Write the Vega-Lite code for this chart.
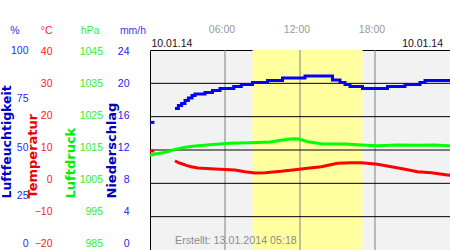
{
  "$schema": "https://vega.github.io/schema/vega-lite/v6.json",
  "width": 300,
  "height": 200,
  "autosize": {"type": "none"},
  "padding": {"left": 150, "top": 50, "right": 0, "bottom": 0},
  "background": "white",
  "config": {
    "view": {"fill": "#f2f2f2", "stroke": "#000000", "strokeWidth": 1},
    "font": "Liberation Sans",
    "scale": {"continuousPadding": 0}
  },
  "resolve": {"scale": {"y": "independent"}, "axis": {"y": "independent"}},
  "layer": [
    {
      "data": {"values": [{"start": 8.2, "end": 17.0}]},
      "mark": {"type": "rect", "color": "#ffffa0"},
      "encoding": {
        "x": {"field": "start", "type": "quantitative", "scale": {"domain": [0, 24], "nice": false, "zero": false, "padding": 0}, "axis": null},
        "x2": {"field": "end"}
      }
    },
    {
      "data": {"values": [{"h": 6}, {"h": 12}, {"h": 18}]},
      "mark": {"type": "rule", "color": "#808080", "strokeWidth": 1},
      "encoding": {
        "x": {"field": "h", "type": "quantitative", "scale": {"domain": [0, 24], "nice": false, "zero": false, "padding": 0}, "axis": null}
      }
    },
    {
      "data": {"values": [{"t": 30}, {"t": 20}, {"t": 10}, {"t": 0}, {"t": -10}]},
      "mark": {"type": "rule", "color": "#000000", "strokeWidth": 1},
      "encoding": {
        "y": {"field": "t", "type": "quantitative", "scale": {"domain": [-20, 40], "nice": false, "zero": false}, "axis": null}
      }
    },
    {
      "data": {"values": [
        {"h": 0, "v": 63.8, "seg": 1}, {"h": 0.35, "v": 63.8, "seg": 1},
        {"h": 2.0, "v": 70.8, "seg": 2}, {"h": 2.27, "v": 72.2, "seg": 2}, {"h": 2.53, "v": 73.3, "seg": 2},
        {"h": 2.8, "v": 74.7, "seg": 2}, {"h": 3.07, "v": 76, "seg": 2}, {"h": 3.36, "v": 77.2, "seg": 2},
        {"h": 3.6, "v": 78, "seg": 2}, {"h": 4.4, "v": 78.8, "seg": 2}, {"h": 5.0, "v": 79.8, "seg": 2},
        {"h": 5.6, "v": 80.8, "seg": 2}, {"h": 6.7, "v": 81.8, "seg": 2}, {"h": 7.3, "v": 82.8, "seg": 2},
        {"h": 8.2, "v": 83.7, "seg": 2}, {"h": 9.4, "v": 84.7, "seg": 2}, {"h": 10.6, "v": 86, "seg": 2},
        {"h": 12.4, "v": 87, "seg": 2}, {"h": 14.6, "v": 85, "seg": 2}, {"h": 15.2, "v": 83.7, "seg": 2},
        {"h": 15.6, "v": 82.7, "seg": 2}, {"h": 16.0, "v": 81.8, "seg": 2}, {"h": 17.0, "v": 80.8, "seg": 2},
        {"h": 19.0, "v": 81.8, "seg": 2}, {"h": 20.4, "v": 82.8, "seg": 2}, {"h": 21.6, "v": 83.8, "seg": 2},
        {"h": 22.0, "v": 84.8, "seg": 2}, {"h": 24.0, "v": 84.8, "seg": 2}
      ]},
      "mark": {"type": "line", "color": "#0000ff", "strokeWidth": 3, "interpolate": "step-after"},
      "encoding": {
        "x": {"field": "h", "type": "quantitative", "scale": {"domain": [0, 24], "nice": false, "zero": false, "padding": 0}, "axis": null},
        "y": {"field": "v", "type": "quantitative", "scale": {"domain": [0, 100], "nice": false, "zero": false},
          "axis": {"orient": "left", "offset": 0, "domain": false, "ticks": false, "labels": false, "grid": false,
            "title": "%", "titleAngle": 0, "titleX": -135.5, "titleY": -20, "titleAlign": "center", "titleBaseline": "middle",
            "titleColor": "#3333cc", "titleFont": "Liberation Sans", "titleFontSize": 10.5, "titleFontWeight": "normal"}},
        "detail": {"field": "seg"}
      }
    },
    {
      "data": {"values": [
        {"h": 0, "v": 1013.3}, {"h": 0.4, "v": 1013.8}, {"h": 1.04, "v": 1014.2}, {"h": 1.6, "v": 1014.7},
        {"h": 2.0, "v": 1015.2}, {"h": 2.8, "v": 1015.8}, {"h": 3.6, "v": 1016.2}, {"h": 4.8, "v": 1016.6},
        {"h": 6.4, "v": 1017.0}, {"h": 8.0, "v": 1017.2}, {"h": 9.6, "v": 1017.4}, {"h": 11.0, "v": 1018.2},
        {"h": 11.5, "v": 1018.4}, {"h": 11.9, "v": 1018.3}, {"h": 12.64, "v": 1017.5}, {"h": 13.7, "v": 1016.9},
        {"h": 15.6, "v": 1016.8}, {"h": 16.9, "v": 1016.5}, {"h": 18.2, "v": 1016.3}, {"h": 19.8, "v": 1016.5},
        {"h": 21.4, "v": 1016.4}, {"h": 22.8, "v": 1016.5}, {"h": 23.8, "v": 1016.3}, {"h": 24.0, "v": 1016.3}
      ]},
      "mark": {"type": "line", "color": "#00ff00", "strokeWidth": 3},
      "encoding": {
        "x": {"field": "h", "type": "quantitative", "scale": {"domain": [0, 24], "nice": false, "zero": false, "padding": 0}, "axis": null},
        "y": {"field": "v", "type": "quantitative", "scale": {"domain": [985, 1045], "nice": false, "zero": false},
          "axis": {"orient": "left", "offset": 0, "domain": false, "ticks": false, "labels": false, "grid": false,
            "title": "hPa", "titleAngle": 0, "titleX": -60.5, "titleY": -20, "titleAlign": "center", "titleBaseline": "middle",
            "titleColor": "#33ee33", "titleFont": "Liberation Sans", "titleFontSize": 10.5, "titleFontWeight": "normal"}}
      }
    },
    {
      "data": {"values": [
        {"h": 0, "v": 9.7, "seg": 1}, {"h": 0.35, "v": 9.7, "seg": 1},
        {"h": 2.0, "v": 6.8, "seg": 2}, {"h": 2.27, "v": 6.2, "seg": 2}, {"h": 2.6, "v": 5.8, "seg": 2},
        {"h": 2.9, "v": 5.4, "seg": 2}, {"h": 3.3, "v": 5.0, "seg": 2}, {"h": 3.84, "v": 4.6, "seg": 2},
        {"h": 5.2, "v": 4.3, "seg": 2}, {"h": 6.8, "v": 4.0, "seg": 2}, {"h": 7.6, "v": 3.5, "seg": 2},
        {"h": 8.4, "v": 3.1, "seg": 2}, {"h": 9.2, "v": 3.2, "seg": 2}, {"h": 10.5, "v": 3.6, "seg": 2},
        {"h": 11.6, "v": 4.1, "seg": 2}, {"h": 12.6, "v": 4.5, "seg": 2}, {"h": 13.7, "v": 5.0, "seg": 2},
        {"h": 15.0, "v": 6.0, "seg": 2}, {"h": 16.1, "v": 6.2, "seg": 2}, {"h": 16.9, "v": 6.2, "seg": 2},
        {"h": 18.2, "v": 5.7, "seg": 2}, {"h": 19.3, "v": 5.0, "seg": 2}, {"h": 20.4, "v": 4.2, "seg": 2},
        {"h": 21.4, "v": 3.5, "seg": 2}, {"h": 22.5, "v": 3.2, "seg": 2}, {"h": 23.8, "v": 2.5, "seg": 2},
        {"h": 24.0, "v": 2.4, "seg": 2}
      ]},
      "mark": {"type": "line", "color": "#ff0000", "strokeWidth": 3},
      "encoding": {
        "x": {"field": "h", "type": "quantitative", "scale": {"domain": [0, 24], "nice": false, "zero": false, "padding": 0}, "axis": null},
        "y": {"field": "v", "type": "quantitative", "scale": {"domain": [-20, 40], "nice": false, "zero": false},
          "axis": {"orient": "left", "offset": 0, "domain": false, "ticks": false, "labels": false, "grid": false,
            "title": "°C", "titleAngle": 0, "titleX": -103.8, "titleY": -20, "titleAlign": "center", "titleBaseline": "middle",
            "titleColor": "#ff2222", "titleFont": "Liberation Sans", "titleFontSize": 10.5, "titleFontWeight": "normal"}},
        "detail": {"field": "seg"}
      }
    },
    {
      "data": {"values": [
        {"h": 0, "p": 0}, {"h": 3, "p": 0}, {"h": 6, "p": 0}, {"h": 9, "p": 0},
        {"h": 12, "p": 0}, {"h": 15, "p": 0}, {"h": 18, "p": 0}, {"h": 21, "p": 0}
      ]},
      "mark": {"type": "bar", "color": "#0000ff", "width": 2},
      "encoding": {
        "x": {"field": "h", "type": "quantitative", "scale": {"domain": [0, 24], "nice": false, "zero": false, "padding": 0}, "axis": null},
        "y": {"field": "p", "type": "quantitative", "scale": {"domain": [0, 24], "nice": false, "zero": false},
          "axis": {"orient": "left", "offset": 0, "domain": false, "ticks": false, "labels": false, "grid": false,
            "title": "mm/h", "titleAngle": 0, "titleX": -17.5, "titleY": -20, "titleAlign": "center", "titleBaseline": "middle",
            "titleColor": "#5533dd", "titleFont": "Liberation Sans", "titleFontSize": 10.5, "titleFontWeight": "normal"}}
      }
    },
    {
      "data": {"values": [{"v": 0}, {"v": 25}, {"v": 50}, {"v": 75}, {"v": 100}]},
      "mark": {"type": "rule", "opacity": 0},
      "encoding": {
        "y": {"field": "v", "type": "quantitative", "scale": {"domain": [-3.6458, 100.5208], "nice": false, "zero": false},
          "axis": {"orient": "left", "offset": 122, "values": [0, 25, 50, 75, 100], "domain": false, "ticks": false, "tickSize": 0,
            "labelPadding": 0, "labelAlign": "right", "labelBaseline": "middle", "labelOverlap": false, "grid": false,
            "labelColor": "#2a2aff", "labelFont": "Liberation Sans", "labelFontSize": 10.5,
            "title": "Luftfeuchtigkeit", "titleAngle": 270, "titleX": -17.5, "titleY": 148, "titleAlign": "left", "titleBaseline": "alphabetic",
            "titleColor": "#0000cc", "titleFont": "DejaVu Sans", "titleFontSize": 12.5, "titleFontWeight": "bold"}}
      }
    },
    {
      "data": {"values": [{"v": -20}, {"v": -10}, {"v": 0}, {"v": 10}, {"v": 20}, {"v": 30}, {"v": 40}]},
      "mark": {"type": "rule", "opacity": 0},
      "encoding": {
        "y": {"field": "v", "type": "quantitative", "scale": {"domain": [-22.1875, 40.3125], "nice": false, "zero": false},
          "axis": {"orient": "left", "offset": 98, "values": [-20, -10, 0, 10, 20, 30, 40], "domain": false, "ticks": false, "tickSize": 0,
            "labelPadding": 0, "labelAlign": "right", "labelBaseline": "middle", "labelOverlap": false, "grid": false,
            "labelColor": "#ff2222", "labelFont": "Liberation Sans", "labelFontSize": 10.5,
            "title": "Temperatur", "titleAngle": 270, "titleX": -15.5, "titleY": 148, "titleAlign": "left", "titleBaseline": "alphabetic",
            "titleColor": "#ee0000", "titleFont": "DejaVu Sans", "titleFontSize": 13, "titleFontWeight": "bold"}}
      }
    },
    {
      "data": {"values": [{"v": 985}, {"v": 995}, {"v": 1005}, {"v": 1015}, {"v": 1025}, {"v": 1035}, {"v": 1045}]},
      "mark": {"type": "rule", "opacity": 0},
      "encoding": {
        "y": {"field": "v", "type": "quantitative", "scale": {"domain": [982.8125, 1045.3125], "nice": false, "zero": false},
          "axis": {"orient": "left", "offset": 47.5, "values": [985, 995, 1005, 1015, 1025, 1035, 1045], "format": "d", "domain": false, "ticks": false, "tickSize": 0,
            "labelPadding": 0, "labelAlign": "right", "labelBaseline": "middle", "labelOverlap": false, "grid": false,
            "labelColor": "#33ee33", "labelFont": "Liberation Sans", "labelFontSize": 10.5,
            "title": "Luftdruck", "titleAngle": 270, "titleX": -28.5, "titleY": 148, "titleAlign": "left", "titleBaseline": "alphabetic",
            "titleColor": "#00ee00", "titleFont": "DejaVu Sans", "titleFontSize": 13, "titleFontWeight": "bold"}}
      }
    },
    {
      "data": {"values": [{"v": 0}, {"v": 4}, {"v": 8}, {"v": 12}, {"v": 16}, {"v": 20}, {"v": 24}]},
      "mark": {"type": "rule", "opacity": 0},
      "encoding": {
        "y": {"field": "v", "type": "quantitative", "scale": {"domain": [-0.875, 24.125], "nice": false, "zero": false},
          "axis": {"orient": "left", "offset": 21, "values": [0, 4, 8, 12, 16, 20, 24], "domain": false, "ticks": false, "tickSize": 0,
            "labelPadding": 0, "labelAlign": "right", "labelBaseline": "middle", "labelOverlap": false, "grid": false,
            "labelColor": "#2222ee", "labelFont": "Liberation Sans", "labelFontSize": 10.5,
            "title": "Niederschlag", "titleAngle": 270, "titleX": -14, "titleY": 148, "titleAlign": "left", "titleBaseline": "alphabetic",
            "titleColor": "#0000bb", "titleFont": "DejaVu Sans", "titleFontSize": 13, "titleFontWeight": "bold"}}
      }
    },
    {
      "data": {"values": [{"h": 6, "label": "06:00"}, {"h": 12, "label": "12:00"}, {"h": 18, "label": "18:00"}]},
      "mark": {"type": "text", "align": "center", "baseline": "middle", "dx": -3, "dy": -20, "fontSize": 10.5, "font": "Liberation Sans", "color": "#999999"},
      "encoding": {
        "x": {"field": "h", "type": "quantitative", "scale": {"domain": [0, 24], "nice": false, "zero": false, "padding": 0}, "axis": null},
        "y": {"datum": 1, "type": "quantitative", "scale": {"domain": [0, 1], "nice": false}, "axis": null},
        "text": {"field": "label"}
      }
    },
    {
      "data": {"values": [{"h": 0, "label": "10.01.14"}]},
      "mark": {"type": "text", "align": "left", "baseline": "alphabetic", "dx": 1.5, "dy": -3, "fontSize": 10.5, "font": "Liberation Sans", "color": "#1a0d1a"},
      "encoding": {
        "x": {"field": "h", "type": "quantitative", "scale": {"domain": [0, 24], "nice": false, "zero": false, "padding": 0}, "axis": null},
        "y": {"datum": 1, "type": "quantitative", "scale": {"domain": [0, 1], "nice": false}, "axis": null},
        "text": {"field": "label"}
      }
    },
    {
      "data": {"values": [{"h": 24, "label": "10.01.14"}]},
      "mark": {"type": "text", "align": "right", "baseline": "alphabetic", "dx": -7, "dy": -3, "fontSize": 10.5, "font": "Liberation Sans", "color": "#1a0d1a"},
      "encoding": {
        "x": {"field": "h", "type": "quantitative", "scale": {"domain": [0, 24], "nice": false, "zero": false, "padding": 0}, "axis": null},
        "y": {"datum": 1, "type": "quantitative", "scale": {"domain": [0, 1], "nice": false}, "axis": null},
        "text": {"field": "label"}
      }
    },
    {
      "data": {"values": [{"h": 2.0, "label": "Erstellt: 13.01.2014 05:18"}]},
      "mark": {"type": "text", "align": "left", "baseline": "alphabetic", "dy": -6.5, "fontSize": 10.7, "font": "Liberation Sans", "color": "#8c8c8c"},
      "encoding": {
        "x": {"field": "h", "type": "quantitative", "scale": {"domain": [0, 24], "nice": false, "zero": false, "padding": 0}, "axis": null},
        "y": {"datum": 0, "type": "quantitative", "scale": {"domain": [0, 1], "nice": false}, "axis": null},
        "text": {"field": "label"}
      }
    }
  ]
}
